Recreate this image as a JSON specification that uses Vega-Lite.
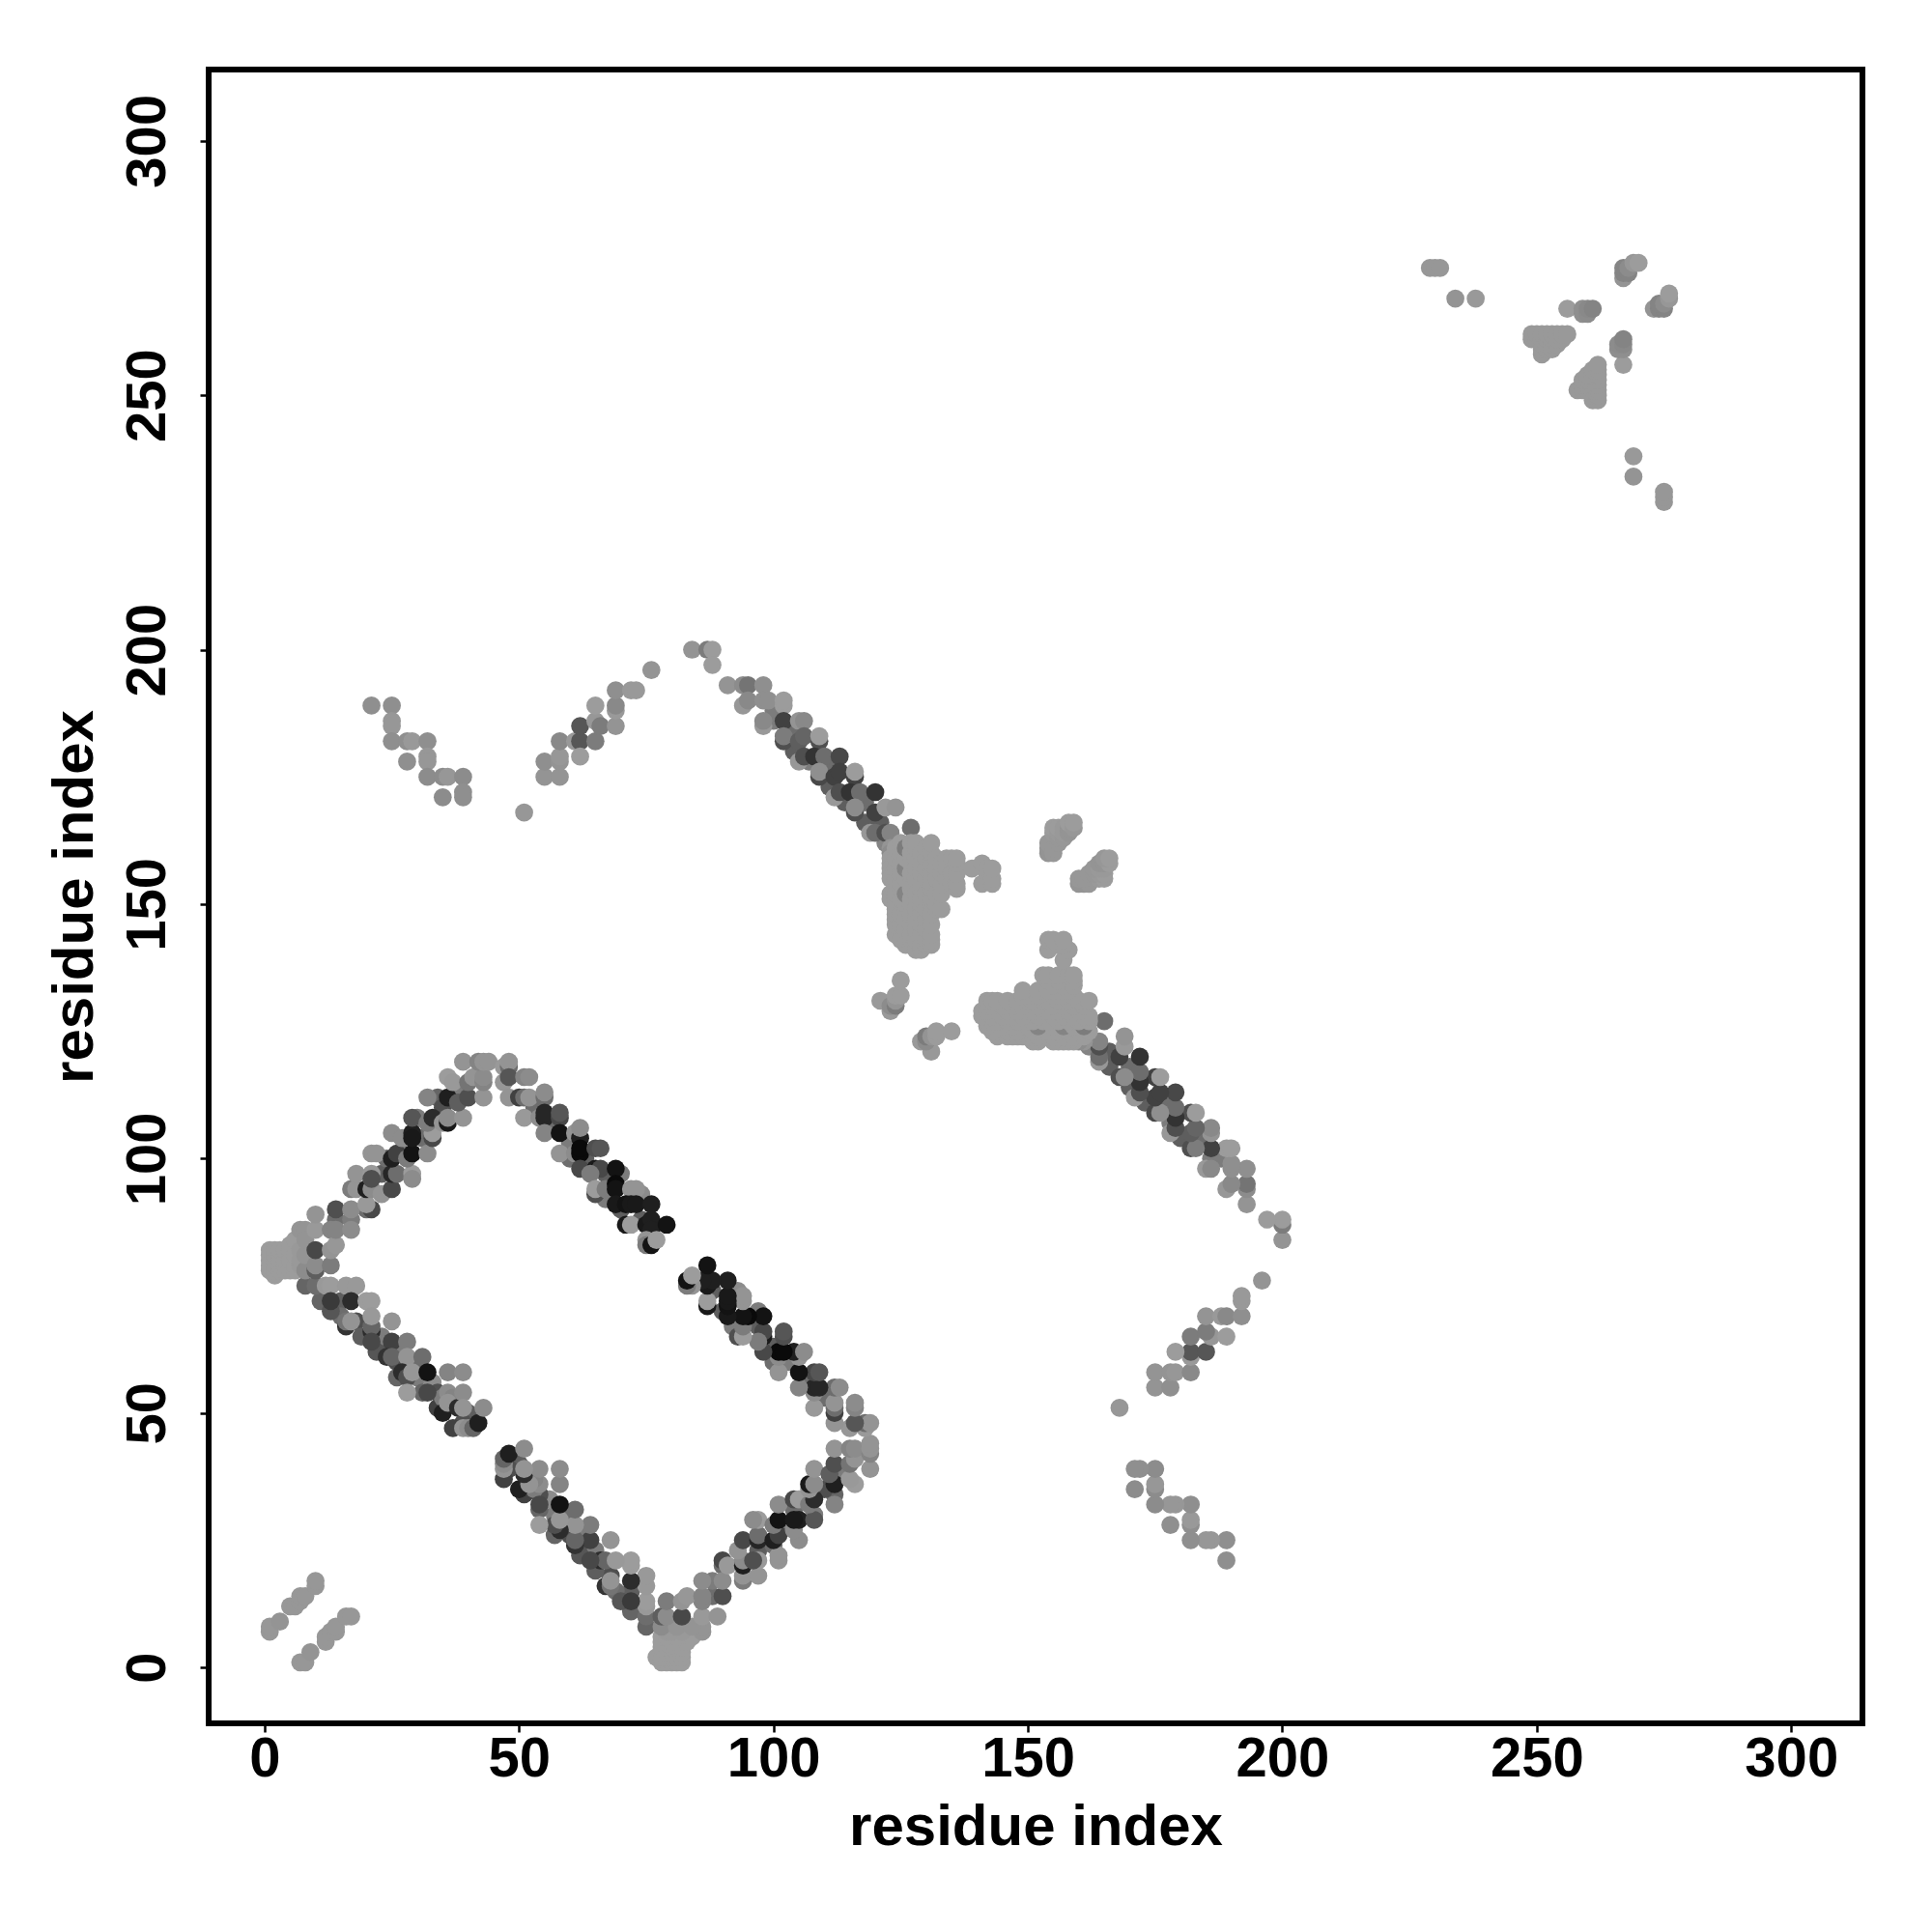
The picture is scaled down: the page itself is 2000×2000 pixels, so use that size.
{"$schema":"https://vega.github.io/schema/vega-lite/v6.json","width":1712,"height":1712,"autosize":"none","padding":{"left":216,"top":72,"right":72,"bottom":216},"background":"white",
"config":{"view":{"stroke":"#000","strokeWidth":6},"axis":{"grid":false,"domain":false,"tickColor":"#000","tickWidth":2.5,"tickSize":9,"labelFont":"Liberation Sans","labelFontWeight":"bold","labelFontSize":58,"labelColor":"#000","titleFont":"Liberation Sans","titleFontWeight":"bold","titleFontSize":60,"titleColor":"#000","labelOverlap":false,"labelFlush":false,"labelBound":false}},
"data":{"values":[
{"i":11,"j":72,"v":0.35},{"i":15,"j":72,"v":0.4},{"i":18,"j":68,"v":0.5},{"i":15,"j":69,"v":0.3},{"i":19,"j":65,"v":0.4},{"i":23,"j":64,"v":0.45},{"i":23,"j":65,"v":0.2},{"i":26,"j":60,"v":0.5},{"i":22,"j":62,"v":0.45},{"i":27,"j":62,"v":0.2},{"i":30,"j":57,"v":0.2},{"i":30,"j":60,"v":0.3},{"i":26,"j":57,"v":0.35},{"i":33,"j":56,"v":0.1},{"i":34,"j":54,"v":0.5},{"i":34,"j":51,"v":0.6},{"i":35,"j":53,"v":0.2},{"i":31,"j":54,"v":0.35},{"i":40,"j":50,"v":0.4},
{"i":60,"j":103,"v":0.2},{"i":63,"j":100,"v":0.4},{"i":67,"j":97,"v":0.4},{"i":70,"j":90,"v":0.4},{"i":74,"j":88,"v":0.4},{"i":60,"j":100,"v":0.3},{"i":53,"j":110,"v":0.3},{"i":57,"j":106,"v":0.3},{"i":67,"j":92,"v":0.2},{"i":70,"j":97,"v":0.2},{"i":74,"j":93,"v":0.1},
{"i":20,"j":90,"v":0.3},{"i":23,"j":97,"v":0.4},{"i":27,"j":101,"v":0.2},{"i":31,"j":104,"v":0.3},{"i":34,"j":112,"v":0.35},{"i":24,"j":100,"v":0.3},{"i":30,"j":108,"v":0.2},{"i":14,"j":88,"v":0.3},{"i":17,"j":88,"v":0.2},{"i":38,"j":114,"v":0.2},{"i":35,"j":110,"v":0.5},
{"i":100,"j":186,"v":0.2},{"i":104,"j":184,"v":0.3},{"i":107,"j":178,"v":0.2},{"i":111,"j":173,"v":0.4},{"i":114,"j":170,"v":0.4},{"i":118,"j":170,"v":0.3},{"i":118,"j":166,"v":0.4},{"i":100,"j":188,"v":0.2},{"i":121,"j":166,"v":0.4},{"i":122,"j":162,"v":0.15},{"i":104,"j":180,"v":0.4},{"i":111,"j":177,"v":0.3},
{"i":1,"j":7,"v":0.03},{"i":1,"j":8,"v":0.03},{"i":3,"j":9,"v":0.05},{"i":5,"j":12,"v":0.03},{"i":6,"j":12,"v":0.03},{"i":7,"j":13,"v":0.03},{"i":7,"j":14,"v":0.03},{"i":8,"j":14,"v":0.03},{"i":10,"j":16,"v":0.03},{"i":10,"j":17,"v":0.03},
{"i":1,"j":78,"v":0},{"i":1,"j":79,"v":0},{"i":1,"j":80,"v":0},{"i":1,"j":81,"v":0},{"i":1,"j":82,"v":0},{"i":2,"j":77,"v":0},{"i":2,"j":78,"v":0},{"i":2,"j":79,"v":0},{"i":2,"j":80,"v":0},{"i":2,"j":81,"v":0},{"i":2,"j":82,"v":0},{"i":3,"j":78,"v":0},{"i":3,"j":79,"v":0},{"i":3,"j":80,"v":0},{"i":3,"j":81,"v":0},{"i":3,"j":82,"v":0},{"i":4,"j":78,"v":0},{"i":4,"j":79,"v":0},{"i":4,"j":80,"v":0},{"i":4,"j":81,"v":0},{"i":4,"j":82,"v":0},{"i":5,"j":78,"v":0},{"i":5,"j":80,"v":0},{"i":5,"j":82,"v":0},{"i":5,"j":83,"v":0},{"i":6,"j":78,"v":0},{"i":6,"j":79,"v":0},{"i":6,"j":81,"v":0},{"i":6,"j":84,"v":0},{"i":7,"j":79,"v":0.02},{"i":7,"j":80,"v":0.02},{"i":7,"j":82,"v":0.02},{"i":7,"j":86,"v":0.05},{"i":8,"j":75,"v":0.35},{"i":8,"j":78,"v":0.1},{"i":8,"j":81,"v":0.05},{"i":8,"j":86,"v":0.05},{"i":8,"j":84,"v":0.05},
{"i":10,"j":75,"v":0.3},{"i":10,"j":78,"v":0.4},{"i":10,"j":79,"v":0.1},{"i":10,"j":82,"v":0.55},{"i":10,"j":86,"v":0.02},{"i":10,"j":89,"v":0.05},{"i":12,"j":75,"v":0.02},{"i":13,"j":75,"v":0},{"i":13,"j":79,"v":0.2},{"i":13,"j":82,"v":0.05},{"i":13,"j":86,"v":0.15},{"i":14,"j":83,"v":0.03},{"i":14,"j":86,"v":0.15},{"i":14,"j":90,"v":0.5},{"i":16,"j":75,"v":0.02},{"i":18,"j":75,"v":0.02},{"i":17,"j":86,"v":0.1},{"i":17,"j":90,"v":0.1},{"i":21,"j":90,"v":0.55},{"i":20,"j":91,"v":0.02},
{"i":13,"j":70,"v":0.45},{"i":13,"j":72,"v":0.65},{"i":17,"j":72,"v":0.75},{"i":20,"j":72,"v":0},{"i":21,"j":72,"v":0},{"i":16,"j":67,"v":0.7},{"i":16,"j":68,"v":0.25},{"i":17,"j":68,"v":0.05},{"i":21,"j":66,"v":0.75},{"i":21,"j":67,"v":0.35},{"i":21,"j":69,"v":0.02},{"i":25,"j":68,"v":0.05},{"i":21,"j":64,"v":0.55},{"i":25,"j":64,"v":0.6},{"i":28,"j":64,"v":0.2},{"i":24,"j":61,"v":0.7},{"i":25,"j":61,"v":0.35},{"i":28,"j":61,"v":0.05},{"i":31,"j":61,"v":0.3},
{"i":27,"j":58,"v":0.75},{"i":28,"j":57,"v":0.5},{"i":29,"j":58,"v":0.03},{"i":32,"j":58,"v":0.95},{"i":36,"j":58,"v":0.15},{"i":39,"j":58,"v":0.1},{"i":28,"j":54,"v":0},{"i":32,"j":54,"v":0.55},{"i":36,"j":54,"v":0.1},{"i":37,"j":53,"v":0.15},{"i":35,"j":50,"v":0.85},{"i":36,"j":52,"v":0.05},{"i":38,"j":51,"v":0.75},{"i":39,"j":54,"v":0.1},{"i":39,"j":48,"v":0.5},{"i":37,"j":47,"v":0.6},{"i":39,"j":47,"v":0.05},{"i":40,"j":47,"v":0.1},{"i":41,"j":47,"v":0.35},{"i":42,"j":48,"v":0.85},{"i":43,"j":51,"v":0.1},{"i":39,"j":51,"v":0.05},
{"i":17,"j":94,"v":0.2},{"i":18,"j":94,"v":0.05},{"i":20,"j":94,"v":0.85},{"i":21,"j":94,"v":0.1},{"i":23,"j":93,"v":0.05},{"i":25,"j":94,"v":0.55},{"i":18,"j":97,"v":0.05},{"i":21,"j":97,"v":0.02},{"i":21,"j":96,"v":0.5},{"i":25,"j":97,"v":0.8},{"i":26,"j":97,"v":0.3},{"i":29,"j":97,"v":0},{"i":29,"j":96,"v":0.1},{"i":21,"j":101,"v":0.05},{"i":22,"j":101,"v":0.05},{"i":25,"j":100,"v":0.85},{"i":26,"j":101,"v":0.6},{"i":28,"j":100,"v":0.2},{"i":29,"j":101,"v":0.95},{"i":32,"j":101,"v":0.1},{"i":25,"j":105,"v":0.1},{"i":27,"j":104,"v":0.1},{"i":29,"j":105,"v":0.85},{"i":29,"j":104,"v":0.9},{"i":29,"j":108,"v":0.45},{"i":33,"j":104,"v":0.55},{"i":33,"j":105,"v":0},{"i":32,"j":107,"v":0.2},{"i":33,"j":108,"v":0.75},{"i":35,"j":107,"v":0.05},{"i":36,"j":107,"v":0.9},{"i":36,"j":108,"v":0.1},{"i":39,"j":108,"v":0.05},{"i":32,"j":112,"v":0.15},{"i":36,"j":112,"v":0.85},{"i":38,"j":111,"v":0.4},{"i":40,"j":112,"v":0.5},{"i":43,"j":112,"v":0.05},{"i":36,"j":116,"v":0},{"i":37,"j":115,"v":0.02},{"i":40,"j":115,"v":0.25},{"i":41,"j":116,"v":0.05},{"i":43,"j":115,"v":0.15},{"i":43,"j":116,"v":0.1},{"i":39,"j":119,"v":0.05},{"i":42,"j":119,"v":0.15},{"i":43,"j":119,"v":0.05},{"i":44,"j":119,"v":0.05},{"i":47,"j":118,"v":0.02},
{"i":47,"j":115,"v":0.03},{"i":48,"j":118,"v":0.3},{"i":48,"j":119,"v":0.05},{"i":48,"j":116,"v":0.45},{"i":51,"j":116,"v":0.15},{"i":52,"j":116,"v":0.1},{"i":48,"j":112,"v":0.05},{"i":50,"j":112,"v":0.6},{"i":51,"j":112,"v":0.3},{"i":52,"j":112,"v":0.05},{"i":55,"j":112,"v":0.3},{"i":55,"j":113,"v":0.1},{"i":51,"j":108,"v":0.02},{"i":54,"j":108,"v":0.1},{"i":55,"j":108,"v":0.8},{"i":55,"j":109,"v":0.8},{"i":58,"j":108,"v":0.55},{"i":58,"j":109,"v":0.45},{"i":55,"j":105,"v":0.15},{"i":58,"j":105,"v":0.95},{"i":61,"j":105,"v":0.05},{"i":62,"j":104,"v":0.85},{"i":62,"j":106,"v":0.1},{"i":58,"j":101,"v":0.05},{"i":61,"j":101,"v":0.1},{"i":62,"j":101,"v":1},{"i":62,"j":102,"v":1},{"i":65,"j":102,"v":0.5},{"i":66,"j":102,"v":0.45},{"i":62,"j":98,"v":0.55},{"i":65,"j":98,"v":0.9},{"i":66,"j":98,"v":0.55},{"i":64,"j":97,"v":0.2},{"i":69,"j":98,"v":0.95},{"i":65,"j":93,"v":0.5},{"i":65,"j":94,"v":0},{"i":67,"j":94,"v":0.2},{"i":69,"j":95,"v":1},{"i":69,"j":94,"v":0.95},{"i":72,"j":94,"v":0.05},{"i":73,"j":94,"v":0.05},{"i":69,"j":91,"v":0.9},{"i":71,"j":91,"v":0.95},{"i":72,"j":91,"v":0.9},{"i":73,"j":91,"v":0.9},{"i":76,"j":91,"v":0.85},{"i":71,"j":87,"v":0.9},{"i":72,"j":87,"v":0},{"i":75,"j":87,"v":0.9},{"i":76,"j":88,"v":0.85},{"i":76,"j":86,"v":0.85},{"i":79,"j":87,"v":0.95},{"i":75,"j":84,"v":0.05},{"i":75,"j":83,"v":0.2},{"i":76,"j":83,"v":0.95},{"i":77,"j":84,"v":0},
{"i":21,"j":189,"v":0.08},{"i":25,"j":189,"v":0.08},{"i":25,"j":186,"v":0.03},{"i":25,"j":185,"v":0.03},{"i":25,"j":182,"v":0.08},{"i":28,"j":182,"v":0.08},{"i":29,"j":182,"v":0.02},{"i":32,"j":182,"v":0.08},{"i":32,"j":179,"v":0.03},{"i":32,"j":178,"v":0.03},{"i":28,"j":178,"v":0.08},{"i":32,"j":175,"v":0.1},{"i":35,"j":175,"v":0.1},{"i":36,"j":175,"v":0.03},{"i":39,"j":175,"v":0.1},{"i":39,"j":172,"v":0.08},{"i":39,"j":171,"v":0.08},{"i":35,"j":171,"v":0.1},{"i":51,"j":168,"v":0.03},
{"i":55,"j":175,"v":0.05},{"i":58,"j":175,"v":0.05},{"i":55,"j":178,"v":0.08},{"i":58,"j":178,"v":0.05},{"i":58,"j":179,"v":0.03},{"i":58,"j":182,"v":0.12},{"i":61,"j":182,"v":0.02},{"i":62,"j":182,"v":0.45},{"i":62,"j":179,"v":0},{"i":65,"j":182,"v":0.2},{"i":62,"j":185,"v":0.45},{"i":65,"j":186,"v":0.03},{"i":66,"j":185,"v":0.2},{"i":65,"j":189,"v":0},{"i":69,"j":185,"v":0.05},{"i":69,"j":188,"v":0.02},{"i":69,"j":189,"v":0.12},{"i":69,"j":192,"v":0.08},{"i":72,"j":192,"v":0.02},{"i":73,"j":192,"v":0.02},{"i":76,"j":196,"v":0.05},
{"i":84,"j":200,"v":0.05},{"i":87,"j":200,"v":0.2},{"i":88,"j":200,"v":0},{"i":88,"j":197,"v":0},{"i":91,"j":193,"v":0.05},{"i":94,"j":193,"v":0.1},{"i":95,"j":193,"v":0.25},{"i":98,"j":193,"v":0.08},{"i":94,"j":189,"v":0.03},{"i":95,"j":190,"v":0.12},{"i":98,"j":190,"v":0.08},{"i":99,"j":190,"v":0.08},{"i":102,"j":189,"v":0},{"i":102,"j":190,"v":0},{"i":98,"j":185,"v":0.02},{"i":98,"j":186,"v":0.12},{"i":102,"j":186,"v":0.6},{"i":105,"j":186,"v":0.05},{"i":106,"j":186,"v":0.12},{"i":102,"j":182,"v":0.5},{"i":102,"j":183,"v":0.2},{"i":105,"j":182,"v":0.4},{"i":106,"j":183,"v":0.35},{"i":105,"j":178,"v":0.03},{"i":106,"j":179,"v":0.5},{"i":109,"j":182,"v":0.5},{"i":109,"j":183,"v":0},{"i":108,"j":179,"v":0.7},{"i":110,"j":179,"v":0.3},{"i":113,"j":179,"v":0.55},{"i":109,"j":175,"v":0.55},{"i":109,"j":176,"v":0.08},{"i":112,"j":175,"v":0.6},{"i":113,"j":176,"v":0.6},{"i":112,"j":171,"v":0.02},{"i":113,"j":172,"v":0.5},{"i":116,"j":175,"v":0.6},{"i":116,"j":176,"v":0},{"i":115,"j":172,"v":0.7},{"i":117,"j":172,"v":0.3},{"i":120,"j":172,"v":0.7},{"i":116,"j":168,"v":0.5},{"i":116,"j":169,"v":0.1},{"i":120,"j":168,"v":0.6},{"i":119,"j":164,"v":0.03},{"i":120,"j":164,"v":0.3},{"i":122,"j":169,"v":0.02},{"i":124,"j":169,"v":0.05},{"i":122,"j":164,"v":0.5},{"i":123,"j":164,"v":0.15},{"i":127,"j":165,"v":0.3},
{"i":123,"j":161,"v":0.05},{"i":123,"j":160,"v":0.1},{"i":123,"j":159,"v":0},{"i":123,"j":158,"v":0},{"i":123,"j":157,"v":0},{"i":123,"j":156,"v":0},{"i":123,"j":155,"v":0},{"i":123,"j":152,"v":0},{"i":123,"j":151,"v":0},{"i":124,"j":144,"v":0},{"i":124,"j":146,"v":0},{"i":124,"j":147,"v":0},{"i":124,"j":148,"v":0},{"i":124,"j":149,"v":0},{"i":124,"j":150,"v":0},{"i":124,"j":151,"v":0},{"i":124,"j":152,"v":0},{"i":124,"j":155,"v":0},{"i":124,"j":157,"v":0},{"i":124,"j":159,"v":0},{"i":124,"j":161,"v":0},
{"i":125,"j":143,"v":0},{"i":125,"j":146,"v":0},{"i":125,"j":148,"v":0},{"i":125,"j":151,"v":0},{"i":125,"j":153,"v":0},{"i":125,"j":154,"v":0},{"i":125,"j":156,"v":0},{"i":125,"j":158,"v":0},{"i":125,"j":160,"v":0},{"i":125,"j":162,"v":0},{"i":126,"j":142,"v":0},{"i":126,"j":145,"v":0},{"i":126,"j":147,"v":0},{"i":126,"j":149,"v":0},{"i":126,"j":150,"v":0},{"i":126,"j":152,"v":0.15},{"i":126,"j":155,"v":0},{"i":126,"j":157,"v":0.15},{"i":126,"j":159,"v":0},{"i":126,"j":161,"v":0.2},
{"i":127,"j":142,"v":0},{"i":127,"j":143,"v":0},{"i":127,"j":144,"v":0},{"i":127,"j":146,"v":0},{"i":127,"j":148,"v":0},{"i":127,"j":150,"v":0},{"i":127,"j":151,"v":0},{"i":127,"j":153,"v":0},{"i":127,"j":154,"v":0},{"i":127,"j":156,"v":0},{"i":127,"j":158,"v":0},{"i":127,"j":160,"v":0},{"i":127,"j":162,"v":0},{"i":128,"j":141,"v":0},{"i":128,"j":143,"v":0},{"i":128,"j":145,"v":0},{"i":128,"j":147,"v":0},{"i":128,"j":149,"v":0},{"i":128,"j":152,"v":0},{"i":128,"j":155,"v":0},{"i":128,"j":157,"v":0},{"i":128,"j":159,"v":0},{"i":128,"j":161,"v":0},{"i":128,"j":162,"v":0},
{"i":129,"j":141,"v":0},{"i":129,"j":142,"v":0},{"i":129,"j":144,"v":0},{"i":129,"j":146,"v":0},{"i":129,"j":148,"v":0},{"i":129,"j":150,"v":0},{"i":129,"j":151,"v":0},{"i":129,"j":153,"v":0},{"i":129,"j":154,"v":0},{"i":129,"j":156,"v":0},{"i":129,"j":158,"v":0},{"i":129,"j":160,"v":0},{"i":130,"j":142,"v":0},{"i":130,"j":143,"v":0},{"i":130,"j":145,"v":0},{"i":130,"j":147,"v":0},{"i":130,"j":149,"v":0},{"i":130,"j":152,"v":0},{"i":130,"j":155,"v":0},{"i":130,"j":157,"v":0},{"i":130,"j":159,"v":0},{"i":130,"j":161,"v":0},
{"i":131,"j":142,"v":0},{"i":131,"j":143,"v":0},{"i":131,"j":144,"v":0},{"i":131,"j":146,"v":0},{"i":131,"j":148,"v":0},{"i":131,"j":150,"v":0},{"i":131,"j":151,"v":0},{"i":131,"j":153,"v":0},{"i":131,"j":154,"v":0},{"i":131,"j":156,"v":0},{"i":131,"j":158,"v":0},{"i":131,"j":160,"v":0},{"i":131,"j":162,"v":0},{"i":132,"j":149,"v":0},{"i":132,"j":150,"v":0},{"i":132,"j":152,"v":0},{"i":132,"j":155,"v":0},{"i":132,"j":157,"v":0},{"i":132,"j":159,"v":0},{"i":133,"j":149,"v":0},{"i":133,"j":152,"v":0},{"i":133,"j":154,"v":0},{"i":133,"j":156,"v":0},{"i":133,"j":158,"v":0},{"i":134,"j":155,"v":0},{"i":134,"j":157,"v":0},{"i":134,"j":159,"v":0},{"i":135,"j":154,"v":0},{"i":135,"j":156,"v":0},{"i":135,"j":159,"v":0},{"i":136,"j":153,"v":0},{"i":136,"j":154,"v":0},{"i":136,"j":156,"v":0},{"i":136,"j":158,"v":0},{"i":136,"j":159,"v":0},{"i":139,"j":157,"v":0},{"i":141,"j":154,"v":0},{"i":141,"j":158,"v":0},{"i":142,"j":156,"v":0},{"i":142,"j":157,"v":0},{"i":143,"j":154,"v":0},{"i":143,"j":155,"v":0},{"i":143,"j":157,"v":0},
{"i":121,"j":131,"v":0.02},{"i":123,"j":129,"v":0.02},{"i":123,"j":130,"v":0.1},{"i":124,"j":130,"v":0.2},{"i":124,"j":131,"v":0.05},{"i":124,"j":132,"v":0},{"i":125,"j":132,"v":0},{"i":125,"j":135,"v":0},
{"i":154,"j":160,"v":0.05},{"i":154,"j":161,"v":0.05},{"i":154,"j":162,"v":0.03},{"i":155,"j":160,"v":0.03},{"i":155,"j":161,"v":0.03},{"i":155,"j":164,"v":0.02},{"i":155,"j":165,"v":0},{"i":156,"j":162,"v":0.03},{"i":156,"j":163,"v":0.03},{"i":156,"j":164,"v":0.02},{"i":156,"j":165,"v":0},{"i":157,"j":163,"v":0.03},{"i":157,"j":164,"v":0.02},{"i":157,"j":165,"v":0.02},{"i":158,"j":164,"v":0.05},{"i":158,"j":165,"v":0.05},{"i":158,"j":166,"v":0},{"i":159,"j":165,"v":0.03},{"i":159,"j":166,"v":0},
{"i":229,"j":275,"v":0.03},{"i":230,"j":275,"v":0.03},{"i":231,"j":275,"v":0.03},{"i":234,"j":269,"v":0.05},{"i":238,"j":269,"v":0.02},{"i":249,"j":261,"v":0.02},{"i":249,"j":262,"v":0.02},{"i":250,"j":261,"v":0.02},{"i":250,"j":262,"v":0.02},{"i":251,"j":258,"v":0.02},{"i":251,"j":259,"v":0.02},{"i":251,"j":260,"v":0.02},{"i":251,"j":261,"v":0.02},{"i":251,"j":262,"v":0.02},{"i":252,"j":259,"v":0.02},{"i":252,"j":260,"v":0.02},{"i":252,"j":261,"v":0.02},{"i":252,"j":262,"v":0.02},{"i":253,"j":259,"v":0.02},{"i":253,"j":260,"v":0.02},{"i":253,"j":261,"v":0.02},{"i":253,"j":262,"v":0.02},{"i":254,"j":260,"v":0.02},{"i":254,"j":261,"v":0.02},{"i":254,"j":262,"v":0.02},{"i":255,"j":261,"v":0.02},{"i":255,"j":262,"v":0.02},{"i":256,"j":262,"v":0.02},
{"i":256,"j":267,"v":0},{"i":259,"j":266,"v":0.08},{"i":259,"j":267,"v":0.08},{"i":260,"j":266,"v":0.1},{"i":260,"j":267,"v":0.12},{"i":261,"j":267,"v":0.15},{"i":267,"j":273,"v":0.05},{"i":267,"j":274,"v":0.15},{"i":267,"j":275,"v":0.15},{"i":268,"j":274,"v":0.15},{"i":268,"j":275,"v":0.1},{"i":269,"j":276,"v":0.03},{"i":270,"j":276,"v":0}
]},
"encoding":{"color":{"field":"v","type":"quantitative","legend":null,"scale":{"domain":[0,1],"range":["#9c9c9c","#0a0a0a"]}}},
"layer":[
{"mark":{"type":"circle","size":350,"opacity":1},"encoding":{"x":{"field":"i","type":"quantitative","scale":{"domain":[-11,314],"nice":false,"zero":false},"axis":{"values":[0,50,100,150,200,250,300],"title":"residue index","labelPadding":-1,"titlePadding":12,"labelAngle":0,"labelBaseline":"top","labelAlign":"center"}},"y":{"field":"j","type":"quantitative","scale":{"domain":[-11,314],"nice":false,"zero":false},"axis":{"values":[0,50,100,150,200,250,300],"title":"residue index","labelPadding":25,"titlePadding":16,"labelAngle":-90,"labelAlign":"center","labelBaseline":"bottom"}}}},
{"mark":{"type":"circle","size":350,"opacity":1},"encoding":{"x":{"field":"j","type":"quantitative"},"y":{"field":"i","type":"quantitative"}}}
]}
